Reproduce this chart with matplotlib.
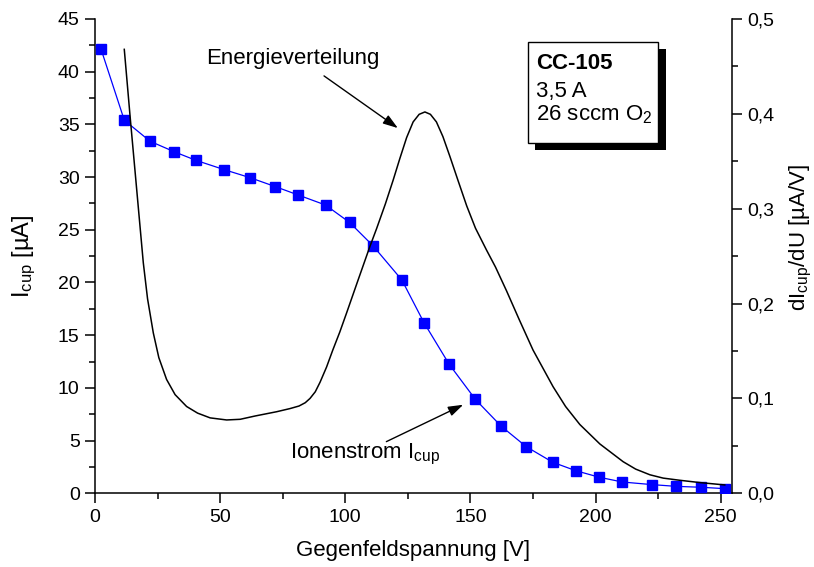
import matplotlib
matplotlib.use("Agg")
import matplotlib.pyplot as plt
from matplotlib.patches import Rectangle
from matplotlib.ticker import MultipleLocator, FuncFormatter

plt.rcParams['font.family'] = ['Liberation Sans', 'DejaVu Sans']
plt.rcParams['mathtext.fontset'] = 'custom'
plt.rcParams['mathtext.rm'] = 'Liberation Sans'
plt.rcParams['mathtext.it'] = 'Liberation Sans:italic'
plt.rcParams['mathtext.bf'] = 'Liberation Sans:bold'

# Ion current measured at the Faraday cup vs. retarding voltage
u_cup = [2.4, 11.7, 22.0, 31.7, 40.2, 51.7, 61.9, 72.0, 81.2, 92.1, 101.7, 111.0,
         122.6, 131.4, 141.5, 152.0, 162.3, 172.3, 182.9, 192.0, 201.5, 210.7,
         222.7, 232.1, 242.3, 251.6]
i_cup = [42.15, 35.4, 33.4, 32.4, 31.6, 30.7, 29.95, 29.1, 28.3, 27.35, 25.7, 23.5,
         20.24, 16.2, 12.24, 8.9, 6.36, 4.42, 2.94, 2.15, 1.52, 1.07,
         0.82, 0.66, 0.57, 0.44]

# Energy distribution dI/dU
u_dist = [11.7, 14.0, 16.6, 18.0, 19.3, 21.0, 23.3, 25.5, 28.6, 32.0, 36.6, 41.0,
          46.0, 52.6, 58.0, 64.0, 72.6, 77.9, 81.5, 84.0, 85.9, 88.0, 89.9, 92.5,
          95.0, 97.8, 100.5, 105.0, 109.8, 112.5, 116.0, 119.1, 121.8, 124.5,
          127.1, 129.5, 131.8, 134.0, 136.4, 139.0, 141.8, 145.0, 148.5, 152.0,
          156.4, 160.0, 164.4, 169.5, 175.0, 183.0, 188.0, 193.7, 201.7, 211.0,
          216.0, 221.7, 227.0, 233.7, 242.0, 251.6]
di_du = [0.468, 0.398, 0.322, 0.281, 0.243, 0.205, 0.169, 0.143, 0.120, 0.104,
         0.0915, 0.0845, 0.0795, 0.0773, 0.0780, 0.0815, 0.086, 0.0893, 0.0920,
         0.0955, 0.100, 0.107, 0.117, 0.133, 0.151, 0.170, 0.190, 0.224, 0.260,
         0.2790, 0.305, 0.330, 0.353, 0.375, 0.3915, 0.3995, 0.402, 0.3995,
         0.3915, 0.376, 0.355, 0.330, 0.303, 0.2795, 0.2565, 0.2385, 0.2135,
         0.183, 0.151, 0.1124, 0.0915, 0.0725, 0.0520, 0.0333, 0.0255, 0.0195,
         0.0160, 0.0137, 0.0112, 0.0088]

x_ticks = [0, 50, 100, 150, 200, 250]
y_left_ticks = [0, 5, 10, 15, 20, 25, 30, 35, 40, 45]
y_right_ticks = [0.0, 0.1, 0.2, 0.3, 0.4, 0.5]

fig = plt.figure(figsize=(8.14, 5.67), dpi=100)
ax = fig.add_axes([0.1167, 0.130, 0.7826, 0.8365])
ax2 = ax.twinx()

ax.plot(u_cup, i_cup, color='#0000ff', lw=0.9, marker='s', ms=7.8,
        mfc='#0000ff', mec='#0000ff', zorder=3)
ax2.plot(u_dist, di_du, color='black', lw=1.1)

ax.set_xlim(0, 254.5)
ax.set_ylim(0, 45)
ax2.set_ylim(0, 0.5)

ax.set_xticks(x_ticks)
ax.set_yticks(y_left_ticks)
ax2.set_yticks(y_right_ticks)
ax.xaxis.set_minor_locator(MultipleLocator(25))
ax.yaxis.set_minor_locator(MultipleLocator(2.5))
ax2.yaxis.set_minor_locator(MultipleLocator(0.05))
ax2.yaxis.set_major_formatter(FuncFormatter(lambda v, p: f"{v:.1f}".replace('.', ',')))

for a in (ax, ax2):
    a.spines['top'].set_visible(False)
    for s in a.spines.values():
        s.set_linewidth(1.1)
    a.tick_params(which='major', direction='out', length=7, width=1.1,
                  labelsize=14, pad=4)
    a.tick_params(which='minor', direction='out', length=4, width=1.1)
ax.spines['right'].set_visible(False)
ax2.spines['left'].set_visible(False)
ax2.spines['bottom'].set_visible(False)

ax.set_xlabel('Gegenfeldspannung [V]', fontsize=16)
ax.xaxis.set_label_coords(0.5, -0.098)
ax.set_ylabel(r'I$_{\mathrm{cup}}$ [µA]', fontsize=17)
ax.yaxis.set_label_coords(-0.090, 0.50)
ax2.set_ylabel(r'dI$_{\mathrm{cup}}$/dU [µA/V]', fontsize=16)
ax2.yaxis.set_label_coords(1.088, 0.54)

# Annotations
arrow = dict(arrowstyle='-|>,head_length=0.9,head_width=0.3', color='black',
             lw=1.0, mutation_scale=10, shrinkA=0, shrinkB=0)
ax2.text(44.2, 0.4523, 'Energieverteilung', fontsize=16, ha='left', va='baseline')
ax2.annotate('', xy=(121, 0.385), xytext=(91.5, 0.44), arrowprops=arrow)
ax.text(77.9, 3.35, r'Ionenstrom I$_{\mathrm{cup}}$', fontsize=16, ha='left', va='baseline')
ax.annotate('', xy=(147.1, 8.4), xytext=(116.4, 4.9), arrowprops=arrow)

# Info box with drop shadow
W, H = 814.0, 567.0
bx0, by_top, bx1, by_bot = 528, 41.7, 658.3, 142.7
off = 7.3
fig.patches.append(Rectangle(((bx0 + off) / W, 1 - (by_bot + off) / H),
                             (bx1 - bx0) / W, (by_bot - by_top) / H,
                             transform=fig.transFigure, facecolor='black',
                             edgecolor='black', lw=0, zorder=5))
fig.patches.append(Rectangle((bx0 / W, 1 - by_bot / H),
                             (bx1 - bx0) / W, (by_bot - by_top) / H,
                             transform=fig.transFigure, facecolor='white',
                             edgecolor='black', lw=1.0, zorder=6))
fig.text(536 / W, 1 - 69 / H, 'CC-105', fontsize=16, fontweight='bold',
         ha='left', va='baseline', zorder=7)
fig.text(536 / W, 1 - 96.7 / H, '3,5 A', fontsize=16, ha='left', va='baseline', zorder=7)
fig.text(536 / W, 1 - 120.5 / H, r'26 sccm O$_2$', fontsize=16, ha='left',
         va='baseline', zorder=7)

fig.savefig('out.png', dpi=100)
